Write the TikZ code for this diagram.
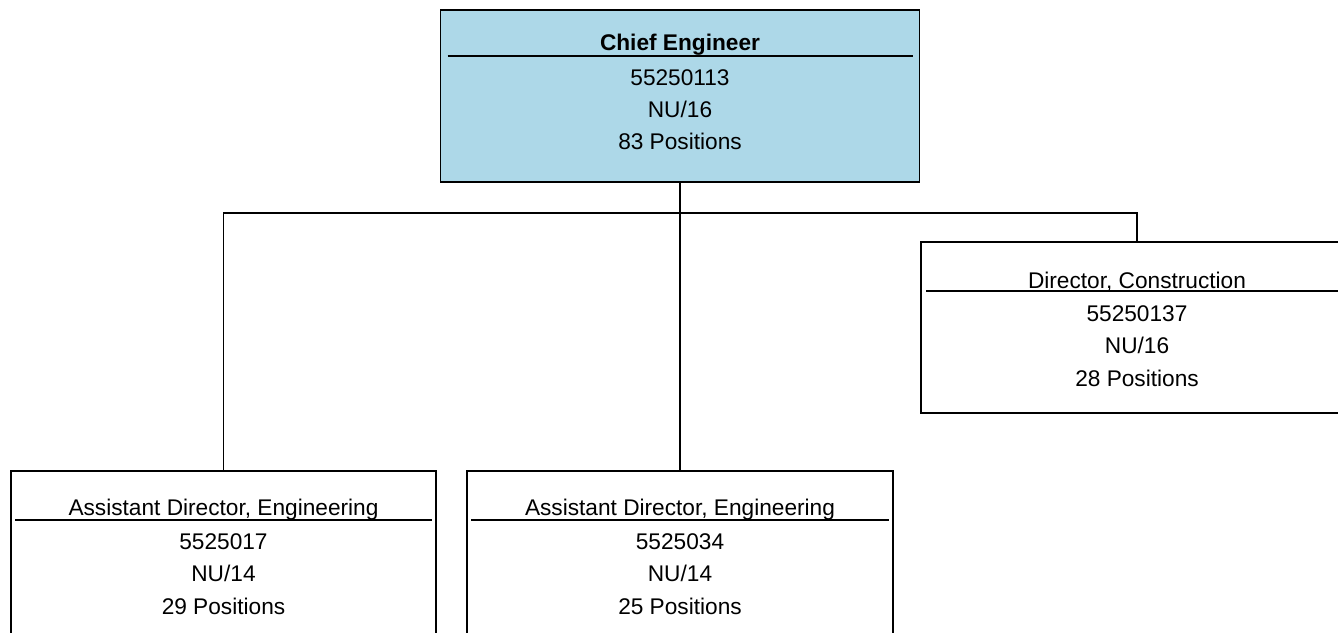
\documentclass[tikz,border=0pt]{standalone}
\usepackage{fontspec}
\setmainfont{Liberation Sans}
\usetikzlibrary{positioning}

\definecolor{chiefblue}{RGB}{173,216,232}

\tikzset{
  post/.style={draw, line width=1.1pt, minimum width=8.5cm, minimum height=3.42cm, inner sep=0pt},
  title/.style={font=\fontsize{12.9}{15}\selectfont, inner sep=0pt},
  details/.style={font=\fontsize{12.9}{18.3}\selectfont, align=center, inner sep=0pt},
  rule/.style={line width=1.1pt},
  link/.style={line width=1.1pt}
}

\begin{document}
\begin{tikzpicture}

  \useasboundingbox (0,0) rectangle (26.76,-12.64);
  \clip (0,0) rectangle (26.76,-12.64);

  % boxes
  \node[post, fill=chiefblue, minimum width=9.58cm, minimum height=3.44cm] (chief) at (13.6,-1.92) {};
  \node[post, minimum width=8.64cm] (constr) at (22.74,-6.55) {};
  \node[post] (asst1) at (4.47,-11.13) {};
  \node[post, minimum width=8.52cm] (asst2) at (13.6,-11.13) {};

  % chief engineer
  \node[title, font=\fontsize{12.9}{15}\selectfont\bfseries] (chief-t) at ([yshift=-0.72cm]chief.north) {Chief Engineer};
  \draw[rule] ([xshift=0.16cm,yshift=-0.94cm]chief.north west) -- ([xshift=-0.14cm,yshift=-0.94cm]chief.north east);
  \node[details] (chief-d) at ([yshift=-2.02cm]chief.north) {55250113\\NU/16\\83 Positions};

  % director, construction
  \node[title] (constr-t) at ([yshift=-0.82cm]constr.north) {Director, Construction};
  \draw[rule] ([xshift=0.12cm,yshift=-1.0cm]constr.north west) -- ([xshift=-0.12cm,yshift=-1.0cm]constr.north east);
  \node[details] (constr-d) at ([yshift=-2.1cm]constr.north) {55250137\\NU/16\\28 Positions};

  % assistant directors
  \node[title] (asst1-t) at ([yshift=-0.8cm]asst1.north) {Assistant Director, Engineering};
  \draw[rule] ([xshift=0.1cm,yshift=-1.0cm]asst1.north west) -- ([xshift=-0.1cm,yshift=-1.0cm]asst1.north east);
  \node[details] (asst1-d) at ([yshift=-2.08cm]asst1.north) {5525017\\NU/14\\29 Positions};

  \node[title] (asst2-t) at ([yshift=-0.8cm]asst2.north) {Assistant Director, Engineering};
  \draw[rule] ([xshift=0.1cm,yshift=-1.0cm]asst2.north west) -- ([xshift=-0.1cm,yshift=-1.0cm]asst2.north east);
  \node[details] (asst2-d) at ([yshift=-2.08cm]asst2.north) {5525034\\NU/14\\25 Positions};

  % connectors
  \draw[link] (chief.south) -- ++(0,-0.6) coordinate (bus);
  \draw[link] (asst1.north) |- (bus) -| (constr.north);
  \draw[link] (bus) -- (asst2.north);

\end{tikzpicture}
\end{document}
